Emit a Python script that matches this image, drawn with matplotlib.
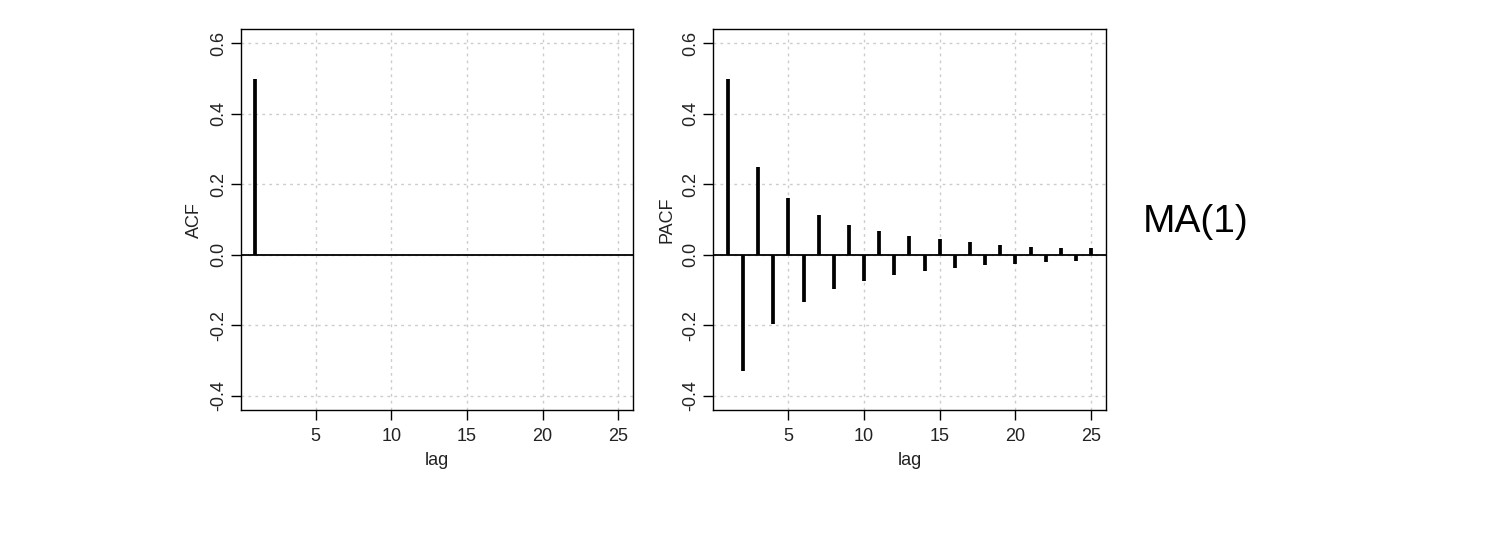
import matplotlib
matplotlib.use("Agg")
import matplotlib.pyplot as plt

plt.rcParams['font.family'] = ['Liberation Sans', 'DejaVu Sans']

lags = list(range(1, 26))
acf_vals = [0.5, 0.0, 0.0, 0.0, 0.0, 0.0, 0.0, 0.0, 0.0, 0.0,
            0.0, 0.0, 0.0, 0.0, 0.0, 0.0, 0.0, 0.0, 0.0, 0.0,
            0.0, 0.0, 0.0, 0.0, 0.0]
pacf_vals = [0.50, -0.33, 0.25, -0.195, 0.16, -0.133, 0.113, -0.097, 0.085, -0.074,
             0.068, -0.056, 0.054, -0.047, 0.046, -0.038, 0.037, -0.030, 0.028, -0.025,
             0.023, -0.021, 0.020, -0.016, 0.020]
xticks = [5, 10, 15, 20, 25]
yticks = [-0.4, -0.2, 0.0, 0.2, 0.4, 0.6]
ylabels = ['ACF', 'PACF']
xlabel = 'lag'
title_text = 'MA(1)'

W, H = 1500, 536
fig = plt.figure(figsize=(W / 100, H / 100), dpi=100)

boxes = [(240.7, 29.3, 632.7, 410.0), (713.3, 29.3, 1105.7, 410.0)]
series = [acf_vals, pacf_vals]

for (x0, y0, x1, y1), vals, ylab in zip(boxes, series, ylabels):
    ax = fig.add_axes([x0 / W, 1 - y1 / H, (x1 - x0) / W, (y1 - y0) / H])
    ax.set_xlim(0.04, 25.96)
    ax.set_ylim(-0.44, 0.64)
    for xt in xticks:
        ax.axvline(xt, color='#cccccc', lw=1, linestyle=(0, (2, 3)), zorder=0)
    for yt in yticks:
        ax.axhline(yt, color='#cccccc', lw=1, linestyle=(0, (2, 3)), zorder=0)
    ax.axhline(0, color='black', lw=1.3, zorder=2)
    ax.vlines(lags, 0, vals, color='black', lw=2.7, zorder=3, capstyle='butt')
    ax.set_xticks(xticks)
    ax.set_yticks(yticks)
    ax.set_yticklabels([f'{v:.1f}' for v in yticks], rotation=90, va='center')
    ax.tick_params(axis='both', direction='out', length=7, width=1, labelsize=13,
                   color='black', labelcolor='#222222', pad=3)
    ax.tick_params(axis='x', pad=6)
    for s in ax.spines.values():
        s.set_linewidth(1)
        s.set_color('black')
    ax.set_ylabel(ylab, fontsize=13, color='#222222', labelpad=5)
    ax.set_xlabel(xlabel, fontsize=13, color='#222222', labelpad=5)

fig.text(1196 / W, 1 - 222 / H, title_text, fontsize=28, ha='center', va='center',
         color='black')

fig.savefig('out.png', dpi=100)
